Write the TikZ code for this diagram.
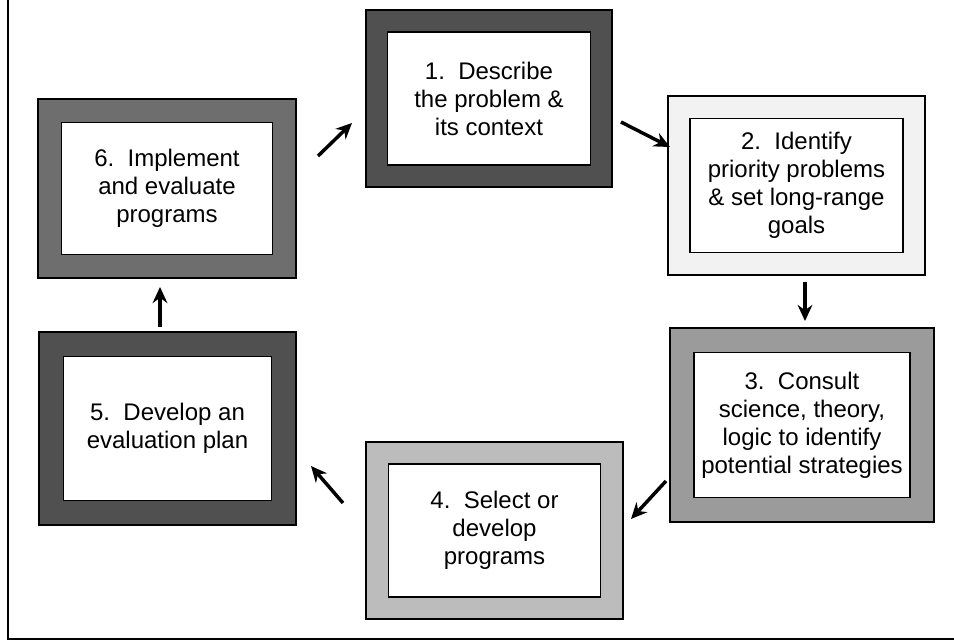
\documentclass[tikz,border=0pt]{standalone}
\usepackage{fontspec}
\setmainfont{Liberation Sans}
\usetikzlibrary{arrows.meta}
\definecolor{darkband}{RGB}{80,80,80}
\definecolor{midband}{RGB}{110,110,110}
\definecolor{greyband}{RGB}{155,155,155}
\definecolor{lightband}{RGB}{188,188,188}
\definecolor{paleband}{RGB}{242,242,242}
\tikzset{
  outerbox/.style={draw=black,line width=1pt,inner sep=0pt,outer sep=0pt},
  innerbox/.style={draw=black,line width=0.8pt,fill=white,inner sep=0pt,align=center,
    font=\fontsize{18}{21}\selectfont},
  cyclearrow/.style={line width=2.6pt,-{Stealth[length=12pt,width=11pt]}}
}

\begin{document}
\begin{tikzpicture}[x=0.75pt,y=0.75pt,yscale=-1,xscale=1]
\useasboundingbox (0,0) rectangle (954,642);

%Straight Lines: left and bottom rule
\draw [line width=1.5pt] (8,0) -- (8,639) -- (954,639) ;

%Shape: Rectangle 1
\node [outerbox,fill=darkband,minimum width=184.5pt,minimum height=132.75pt] (f1) at (489,98.5) {};
\node [innerbox,minimum width=152.25pt,minimum height=99.75pt] (s1) at (f1) {1.\ \ Describe\\the problem \&\\its context};
%Shape: Rectangle 2
\node [outerbox,fill=paleband,minimum width=192.75pt,minimum height=134.25pt] (f2) at (796.5,185.5) {};
\node [innerbox,minimum width=159.75pt,minimum height=100.5pt] (s2) at (f2) {2.\ \ Identify\\priority problems\\\& set long-range\\goals};
%Shape: Rectangle 3
\node [outerbox,fill=greyband,minimum width=198pt,minimum height=145.5pt] (f3) at (802,425) {};
\node [innerbox,minimum width=162pt,minimum height=108.75pt] (s3) at (f3) {3.\ \ Consult\\science, theory,\\logic to identify\\potential strategies};
%Shape: Rectangle 4
\node [outerbox,fill=lightband,minimum width=192.75pt,minimum height=132.75pt] (f4) at (494.5,530.5) {};
\node [innerbox,minimum width=159pt,minimum height=99.75pt] (s4) at (f4) {4.\ \ Select or\\develop\\programs};
%Shape: Rectangle 5
\node [outerbox,fill=darkband,minimum width=192.75pt,minimum height=144.75pt] (f5) at (167.5,428.5) {};
\node [innerbox,minimum width=156pt,minimum height=108pt] (s5) at (f5) {5.\ \ Develop an\\evaluation plan};
%Shape: Rectangle 6
\node [outerbox,fill=midband,minimum width=193.5pt,minimum height=134.25pt] (f6) at (167,188.5) {};
\node [innerbox,minimum width=158.25pt,minimum height=99pt] (s6) at (f6) {6.\ \ Implement\\and evaluate\\programs};

%Arrow ends
\coordinate (a6) at (318,156) ;
\coordinate (b6) at (352,123) ;
\coordinate (a1) at (621,122) ;
\coordinate (b1) at (670,147) ;
\coordinate (a2) at (805,282) ;
\coordinate (b2) at (805,321) ;
\coordinate (a3) at (666,481) ;
\coordinate (b3) at (631,519) ;
\coordinate (a4) at (343,503) ;
\coordinate (b4) at (311,466) ;
\coordinate (a5) at (160,327) ;
\coordinate (b5) at (160,287) ;

%Straight Lines: arrows of the cycle
\draw [cyclearrow] (a6) -- (b6) ;
\draw [cyclearrow] (a1) -- (b1) ;
\draw [cyclearrow] (a2) -- (b2) ;
\draw [cyclearrow] (a3) -- (b3) ;
\draw [cyclearrow] (a4) -- (b4) ;
\draw [cyclearrow] (a5) -- (b5) ;

\end{tikzpicture}
\end{document}
